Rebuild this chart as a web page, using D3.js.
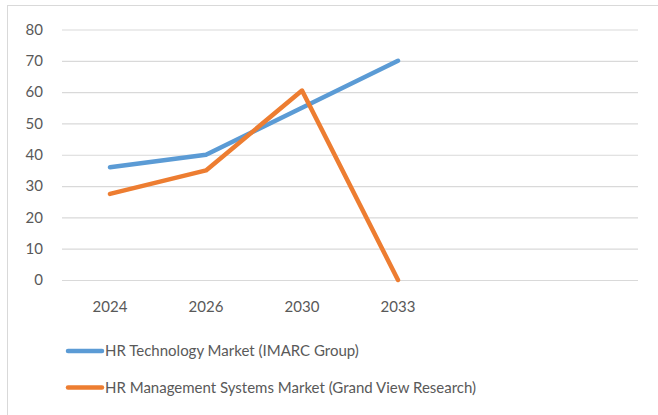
<!DOCTYPE html>
<html>
<head>
<meta charset="utf-8">
<script src="https://cdn.jsdelivr.net/npm/d3@7"></script>
<style>
  body { margin: 0; background: #fff; }
  text { font-family: Lato, "Open Sans", sans-serif; fill: #595959; }
</style>
</head>
<body>
<div id="chart"></div>
<script>
// categories (last two slots are empty in the original sheet)
const years = ['2024', '2026', '2030', '2033', '', ' '];
const seriesNames = ['HR Technology Market (IMARC Group)', 'HR Management Systems Market (Grand View Research)'];
const hrTech = [36, 40, 55, 70];
const hrMgmt = [27.5, 35, 60.5, 0];
const yTicks = [0, 10, 20, 30, 40, 50, 60, 70, 80];
const colors = ['#5B9BD5', '#ED7D31'];

const width = 658;
const height = 415;
const margin = {top: 30, bottom: 135, left: 62, right: 20};

const svg = d3.select('#chart')
    .append('svg')
    .attr('width', width)
    .attr('height', height);

// outer chart border
svg.append('rect')
    .attr('x', 7.5).attr('y', 5.5)
    .attr('width', width).attr('height', height)
    .attr('fill', 'none')
    .attr('stroke', '#d9d9d9');

const x = d3.scaleBand()
    .domain(years)
    .range([margin.left, 638]);

const y = d3.scaleLinear()
    .domain([0, 80])
    .range([280, 29.5]);

// gridlines + y labels
const yAxis = g => g
    .attr('transform', `translate(${margin.left}, 0)`)
    .call(d3.axisLeft(y).tickValues(yTicks).tickSize(-(638 - margin.left)).tickPadding(19))
    .call(g => g.select('.domain').remove())
    .call(g => g.selectAll('.tick line').attr('stroke', '#d9d9d9').attr('stroke-width', 1.2))
    .call(g => g.selectAll('.tick text').attr('font-size', '15px').attr('fill', '#595959'));

svg.append('g').call(yAxis);

const xAxis = g => g
    .attr('transform', `translate(0, 280)`)
    .call(d3.axisBottom(x).tickSize(0).tickPadding(21))
    .call(g => g.select('.domain').remove())
    .call(g => g.selectAll('.tick text').attr('font-size', '15px').attr('fill', '#595959'));

svg.append('g').call(xAxis);

const line = d3.line()
    .x((d, i) => x(years[i]) + x.bandwidth() / 2)
    .y(d => y(d));

[hrTech, hrMgmt].forEach((vals, k) => {
    svg.append('path')
        .datum(vals)
        .attr('d', line)
        .attr('fill', 'none')
        .attr('stroke', colors[k])
        .attr('stroke-width', 4.5)
        .attr('stroke-linejoin', 'round')
        .attr('stroke-linecap', 'round');
});

// legend
const legend = svg.append('g')
    .selectAll('g')
    .data(seriesNames)
    .join('g')
    .attr('transform', (d, i) => `translate(68, ${351 + i * 36.5})`);

legend.append('line')
    .attr('x1', 0).attr('x2', 34)
    .attr('stroke', (d, i) => colors[i])
    .attr('stroke-width', 4.5)
    .attr('stroke-linecap', 'round');

legend.append('text')
    .attr('x', 37)
    .attr('dy', '0.35em')
    .attr('font-size', '15px')
    .text(d => d);
</script>
</body>
</html>
